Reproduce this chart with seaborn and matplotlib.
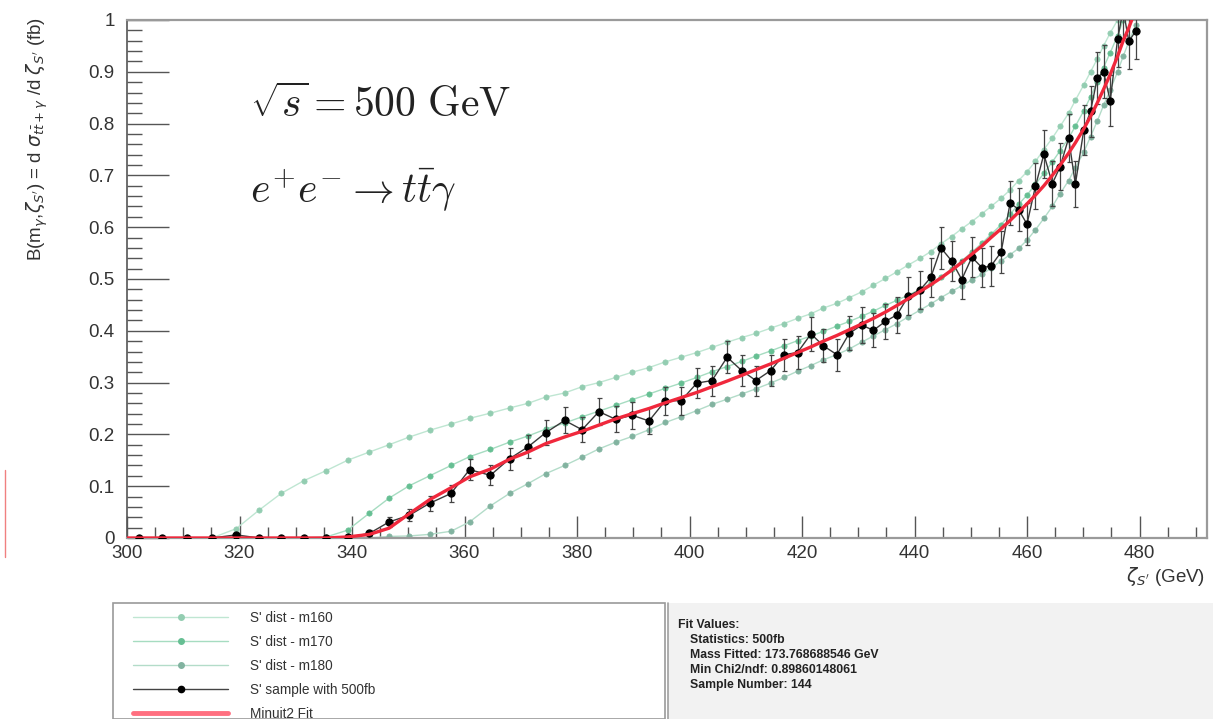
import matplotlib
matplotlib.use("Agg")
import matplotlib.pyplot as plt
from matplotlib.patches import Rectangle
from matplotlib.lines import Line2D
from matplotlib.ticker import MultipleLocator, FuncFormatter
import pandas as pd
import seaborn as sns

# ---- data -------------------------------------------------------------
zeta = [302.1, 306.2, 310.7, 315.1, 319.4, 323.5, 327.4, 331.5, 335.4, 339.2,
        343.1, 346.6, 350.2, 353.8, 357.6, 360.9, 364.6, 368.0, 371.3, 374.4,
        377.8, 380.9, 383.9, 386.9, 389.8, 392.8, 395.7, 398.5, 401.3, 404.0,
        406.7, 409.3, 411.8, 414.4, 416.8, 419.2, 421.6, 423.8, 426.2, 428.4,
        430.6, 432.7, 434.8, 436.9, 438.9, 441.0, 442.9, 444.7, 446.6, 448.4,
        450.2, 452.0, 453.6, 455.4, 457.0, 458.5, 460.0, 461.5, 463.0, 464.5,
        465.9, 467.4, 468.6, 470.1, 471.3, 472.5, 473.6, 474.8, 476.1, 477.1,
        478.1, 479.3]

sample_500fb = [0.0, 0.0, 0.0, 0.0, 0.006, 0.0, 0.0, 0.0, 0.0, 0.001,
                0.009, 0.031, 0.044, 0.067, 0.086, 0.132, 0.121, 0.153, 0.176, 0.203,
                0.227, 0.209, 0.244, 0.229, 0.237, 0.226, 0.265, 0.265, 0.299, 0.304,
                0.349, 0.323, 0.304, 0.323, 0.354, 0.358, 0.394, 0.371, 0.354, 0.395,
                0.411, 0.401, 0.418, 0.431, 0.467, 0.479, 0.503, 0.560, 0.535, 0.499,
                0.542, 0.522, 0.525, 0.552, 0.647, 0.634, 0.606, 0.679, 0.741, 0.684,
                0.717, 0.772, 0.683, 0.788, 0.824, 0.888, 0.900, 0.844, 0.963, 1.020,
                0.959, 0.978]

sample_err = [0.0, 0.0, 0.0, 0.0, 0.004, 0.0, 0.0, 0.0, 0.0, 0.0,
              0.006, 0.010, 0.012, 0.014, 0.016, 0.020, 0.019, 0.021, 0.022, 0.024,
              0.025, 0.024, 0.026, 0.025, 0.026, 0.025, 0.027, 0.027, 0.029, 0.029,
              0.031, 0.030, 0.029, 0.030, 0.031, 0.032, 0.033, 0.032, 0.031, 0.033,
              0.034, 0.033, 0.034, 0.035, 0.036, 0.037, 0.038, 0.040, 0.039, 0.038,
              0.039, 0.038, 0.038, 0.040, 0.043, 0.042, 0.041, 0.044, 0.046, 0.044,
              0.045, 0.047, 0.044, 0.048, 0.049, 0.051, 0.051, 0.049, 0.053, 0.054,
              0.053, 0.053]

dist_m160 = [0.0, 0.0, 0.0, 0.0, 0.018, 0.054, 0.086, 0.111, 0.130, 0.150,
             0.166, 0.180, 0.195, 0.208, 0.220, 0.231, 0.241, 0.251, 0.260, 0.272,
             0.280, 0.292, 0.300, 0.310, 0.320, 0.329, 0.340, 0.349, 0.358, 0.368,
             0.378, 0.387, 0.395, 0.405, 0.414, 0.424, 0.433, 0.444, 0.453, 0.464,
             0.475, 0.488, 0.501, 0.514, 0.527, 0.540, 0.553, 0.568, 0.582, 0.597,
             0.611, 0.626, 0.640, 0.656, 0.672, 0.690, 0.707, 0.727, 0.750, 0.772,
             0.795, 0.820, 0.845, 0.875, 0.900, 0.925, 0.950, 0.975, 1.000, 1.030,
             1.060, 1.090]

dist_m170 = [0.0, 0.0, 0.0, 0.0, 0.0, 0.0, 0.0, 0.0, 0.002, 0.015,
             0.048, 0.077, 0.101, 0.120, 0.140, 0.157, 0.171, 0.185, 0.197, 0.210,
             0.222, 0.234, 0.245, 0.256, 0.267, 0.278, 0.289, 0.299, 0.310, 0.321,
             0.331, 0.341, 0.351, 0.361, 0.371, 0.381, 0.390, 0.399, 0.409, 0.418,
             0.428, 0.438, 0.449, 0.459, 0.469, 0.480, 0.492, 0.504, 0.519, 0.535,
             0.552, 0.569, 0.586, 0.605, 0.625, 0.644, 0.662, 0.683, 0.704, 0.726,
             0.748, 0.772, 0.795, 0.825, 0.852, 0.880, 0.908, 0.937, 0.970, 1.000,
             1.030, 1.060]

dist_m180 = [0.0, 0.0, 0.0, 0.0, 0.0, 0.0, 0.0, 0.0, 0.0, 0.0,
             0.0, 0.003, 0.004, 0.007, 0.013, 0.031, 0.062, 0.086, 0.105, 0.124,
             0.140, 0.156, 0.172, 0.185, 0.196, 0.209, 0.223, 0.234, 0.246, 0.258,
             0.268, 0.278, 0.288, 0.299, 0.310, 0.322, 0.333, 0.344, 0.354, 0.365,
             0.378, 0.390, 0.402, 0.414, 0.427, 0.440, 0.452, 0.464, 0.476, 0.487,
             0.498, 0.509, 0.521, 0.535, 0.547, 0.559, 0.575, 0.595, 0.617, 0.640,
             0.665, 0.690, 0.715, 0.745, 0.775, 0.805, 0.835, 0.865, 0.900, 0.930,
             0.958, 0.990]

fit_zeta = [300.0] + zeta
fit_minuit2 = [0.0,
               0.0, 0.0, 0.0, 0.0, 0.0, 0.0, 0.0, 0.0, 0.0, 0.002,
               0.007, 0.019, 0.047, 0.074, 0.097, 0.118, 0.133, 0.152, 0.166, 0.182,
               0.195, 0.206, 0.218, 0.230, 0.240, 0.250, 0.261, 0.271, 0.281, 0.292,
               0.303, 0.314, 0.325, 0.336, 0.347, 0.358, 0.369, 0.380, 0.391, 0.402,
               0.413, 0.424, 0.436, 0.449, 0.462, 0.476, 0.489, 0.502, 0.517, 0.532,
               0.548, 0.564, 0.580, 0.597, 0.613, 0.629, 0.645, 0.662, 0.680, 0.700,
               0.720, 0.743, 0.763, 0.790, 0.814, 0.840, 0.866, 0.895, 0.930, 0.960,
               0.985, 1.020]

legend_labels = ["S' dist - m160", "S' dist - m170", "S' dist - m180",
                 "S' sample with 500fb", "Minuit2 Fit"]
fit_title = "Fit Values:"
fit_lines = ["Statistics: 500fb",
             "Mass Fitted: 173.768688546 GeV",
             "Min Chi2/ndf: 0.89860148061",
             "Sample Number: 144"]

# ---- style ------------------------------------------------------------
sns.set_theme(style="ticks")
plt.rcParams["font.family"] = ["Liberation Sans", "DejaVu Sans"]
plt.rcParams["mathtext.fontset"] = "dejavusans"

W, H = 1213, 719
fig = plt.figure(figsize=(W / 100, H / 100), dpi=100)
fig.patch.set_facecolor("white")
ax = fig.add_axes([127 / W, 1 - 538 / H, (1207 - 127) / W, (538 - 20) / H])

green_styles = {
    "m160": dict(line="#bfe6d2", face="#93cdb1"),
    "m170": dict(line="#a6dcc1", face="#66bf93"),
    "m180": dict(line="#b3dcc9", face="#82b3a0"),
}

curves = pd.DataFrame({"zeta": zeta, "m160": dist_m160,
                       "m170": dist_m170, "m180": dist_m180})
for key in ["m160", "m170", "m180"]:
    st = green_styles[key]
    sns.lineplot(data=curves, x="zeta", y=key, ax=ax, estimator=None, sort=False,
                 color=st["line"], linewidth=1.0, marker="o", markersize=3.8,
                 markerfacecolor=st["face"], markeredgecolor=st["face"],
                 markeredgewidth=0.5, zorder=2)

# measured sample with statistical errors
ax.errorbar(zeta, sample_500fb, yerr=sample_err, fmt="none", ecolor="#444444",
            elinewidth=0.9, capsize=1.8, capthick=0.9, zorder=3)
sample_df = pd.DataFrame({"zeta": zeta, "val": sample_500fb})
sns.lineplot(data=sample_df, x="zeta", y="val", ax=ax, estimator=None, sort=False,
             color="#3a3a3a", linewidth=1.0, marker="o", markersize=5.2,
             markerfacecolor="black", markeredgecolor="black", zorder=4)

fit_df = pd.DataFrame({"zeta": fit_zeta, "val": fit_minuit2})
sns.lineplot(data=fit_df, x="zeta", y="val", ax=ax, estimator=None, sort=False,
             color="#f0283c", linewidth=2.4, zorder=5)

# ---- axes -------------------------------------------------------------
ax.set_xlim(300, 492)
ax.set_ylim(0, 1)
ax.set_xlabel("")
ax.set_ylabel("")
ax.xaxis.set_major_locator(MultipleLocator(20))
ax.xaxis.set_minor_locator(MultipleLocator(5))
ax.yaxis.set_major_locator(MultipleLocator(0.1))
ax.yaxis.set_minor_locator(MultipleLocator(0.02))
ax.yaxis.set_major_formatter(FuncFormatter(lambda v, p: f"{v:g}"))
ax.xaxis.set_major_formatter(FuncFormatter(lambda v, p: f"{v:g}" if v <= 480 else ""))

ax.tick_params(axis="x", which="major", direction="in", length=16, width=1,
               color="#555555", labelsize=13.5, labelcolor="#333333", pad=5)
ax.tick_params(axis="x", which="minor", direction="in", length=8, width=1,
               color="#555555")
ax.tick_params(axis="y", which="major", direction="in", length=30, width=1,
               color="#555555", labelsize=13.5, labelcolor="#333333", pad=9)
ax.tick_params(axis="y", which="minor", direction="in", length=11, width=1,
               color="#555555")
for side in ["top", "right", "bottom"]:
    ax.spines[side].set_visible(True)
    ax.spines[side].set_color("#9a9a9a")
    ax.spines[side].set_linewidth(1.6)
ax.spines["left"].set_color("#555555")
ax.spines["left"].set_linewidth(1.2)

# axis titles
fig.text(37 / W, 1 - 17 / H,
         r"B(m$_{\gamma}$,$\zeta_{S'}$) = d $\sigma_{t\bar{t}+\gamma}$ /d $\zeta_{S'}$ (fb)",
         rotation=90, ha="center", va="top", fontsize=13.5, color="#333333")
fig.text(1205 / W, 1 - 577 / H, r"$\zeta_{S'}$ (GeV)", ha="right", va="center",
         fontsize=13.5, color="#333333")

# process annotations
fig.text(250 / W, 1 - 106 / H, r"$\sqrt{s} = 500\ \mathrm{GeV}$", ha="left",
         va="center", fontsize=30, math_fontfamily="cm", color="#222222")
fig.text(250 / W, 1 - 190 / H, r"$e^{+}e^{-} \rightarrow t\bar{t}\gamma$",
         ha="left", va="center", fontsize=30, math_fontfamily="cm", color="#222222")

# legend panel
fig.add_artist(Rectangle((113 / W, 0), (665 - 113) / W, (719 - 603) / H,
                         transform=fig.transFigure, facecolor="white",
                         edgecolor="#9a9a9a", linewidth=1.2, zorder=1))
handles = [
    Line2D([], [], color="#bfe6d2", lw=1.0, marker="o", ms=4,
           mfc=green_styles["m160"]["face"], mec=green_styles["m160"]["face"]),
    Line2D([], [], color="#a6dcc1", lw=1.0, marker="o", ms=4,
           mfc=green_styles["m170"]["face"], mec=green_styles["m170"]["face"]),
    Line2D([], [], color="#b3dcc9", lw=1.0, marker="o", ms=4,
           mfc=green_styles["m180"]["face"], mec=green_styles["m180"]["face"]),
    Line2D([], [], color="#444444", lw=1.0, marker="o", ms=4.5,
           mfc="black", mec="black"),
    Line2D([], [], color="#ff6f80", lw=3.5),
]
leg = fig.legend(handles, legend_labels, loc="upper left",
                 bbox_to_anchor=(133 / W, 1 - 611 / H), frameon=False,
                 fontsize=9.8, handlelength=7.0, handletextpad=1.6,
                 labelspacing=0.73, borderaxespad=0, borderpad=0)
for t in leg.get_texts():
    t.set_color("#333333")

# fit summary panel
fig.add_artist(Rectangle((668 / W, 0), (W - 668) / W, (719 - 603) / H,
                         transform=fig.transFigure, facecolor="#f2f2f2",
                         edgecolor="none", zorder=1))
fig.add_artist(Line2D([668 / W, 668 / W], [0, (719 - 603) / H],
                      transform=fig.transFigure, color="#a0a0a0", lw=1.2))
fig.text(678 / W, 1 - 625 / H, fit_title, ha="left", va="center",
         fontsize=8.8, fontweight="bold", color="#222222")
for i, line in enumerate(fit_lines):
    fig.text(690 / W, 1 - (640 + 15 * i) / H, line, ha="left", va="center",
             fontsize=8.8, fontweight="bold", color="#222222")

# thin red mark at the left margin
fig.add_artist(Line2D([5 / W, 5 / W], [1 - 557 / H, 1 - 470 / H],
                      transform=fig.transFigure, color="#f08080", lw=1.0))

fig.savefig("out.png", dpi=100)
